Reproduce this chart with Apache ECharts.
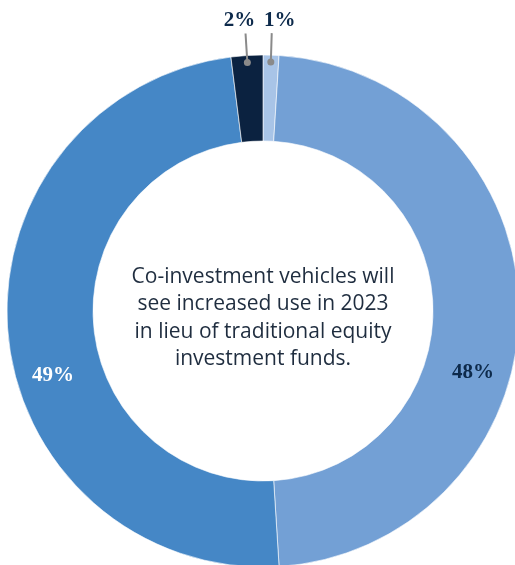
<!DOCTYPE html>
<html><head><meta charset="utf-8">
<script src="https://cdn.jsdelivr.net/npm/echarts@6/dist/echarts.min.js"></script>
<style>html,body{margin:0;padding:0;background:#fff}#c{width:515px;height:565px}</style>
</head><body><div id="c"></div>
<script>
var categories = ['A', 'B', 'C', 'D'];
var values = [1, 48, 49, 2];
var colors = ['#a8c4e7', '#73a0d5', '#4587c6', '#0b2240'];
var labelTexts = ['1%', '48%', '49%', '2%'];
var centerText = 'Co-investment vehicles will\nsee increased use in 2023\nin lieu of traditional equity\ninvestment funds.';

var total = values.reduce(function(a,b){return a+b;},0);
var CX = 263, CY = 311, RO = 256, RI = 170;
var PR = 1.2;

var pieData = values.map(function(v,i){
  var item = {name: categories[i], value: v, itemStyle:{color: colors[i]}};
  if (v < 5) {
    item.label = {show:false};
  } else {
    item.label = {show:true, position:'inside', formatter: labelTexts[i],
      color: i === 1 ? '#0d2a4b' : '#ffffff',
      offset: i === 1 ? [-6, 62] : [5, 44]};
  }
  return item;
});

var extra = [];
var cum = 0;
values.forEach(function(v,i){
  var mid = (cum + v/2) / total * 100;
  cum += v;
  if (v < 5) {
    extra.push({
      type:'line', coordinateSystem:'polar', clip:false, silent:true,
      symbol:'circle', symbolSize:7, showSymbol:true,
      lineStyle:{color:'#8a8a8a', width:2},
      itemStyle:{color:'#8a8a8a'},
      labelLayout:{hideOverlap:false},
      data:[
        {value:[0.973, mid]},
        {value:[1.086, mid], symbolSize:0.01,
          label:{show:true, position: i === 0 ? [8, -2] : [-6, -2],
            align:'center', verticalAlign:'bottom', formatter: labelTexts[i],
            color:'#0d2a4b', fontFamily:'Liberation Serif', fontWeight:'bold', fontSize:21}}
      ],
      z:5
    });
  }
});

var chart = echarts.init(document.getElementById('c'), null, {renderer:'canvas'});
chart.setOption({
  animation:false,
  polar:{center:[CX, CY], radius: RO*PR},
  angleAxis:{type:'value', min:0, max:100, startAngle:90, clockwise:true, show:false},
  radiusAxis:{type:'value', min:0, max:PR, show:false},
  graphic:[{type:'text', x:CX, y:318, style:{text:centerText, fill:'#1f2d3f',
    font:'21px "Open Sans"', lineHeight:27.5, textAlign:'center', textVerticalAlign:'middle', align:'center', verticalAlign:'middle'}}],
  series:[{
    type:'pie', center:[CX, CY], radius:[RI, RO], startAngle:90, clockwise:true,
    avoidLabelOverlap:false, silent:true,
    itemStyle:{borderColor:'#ffffff', borderWidth:0.6},
    label:{fontFamily:'Liberation Serif', fontWeight:'bold', fontSize:21},
    labelLine:{show:false},
    data: pieData
  }].concat(extra)
});
</script></body></html>
